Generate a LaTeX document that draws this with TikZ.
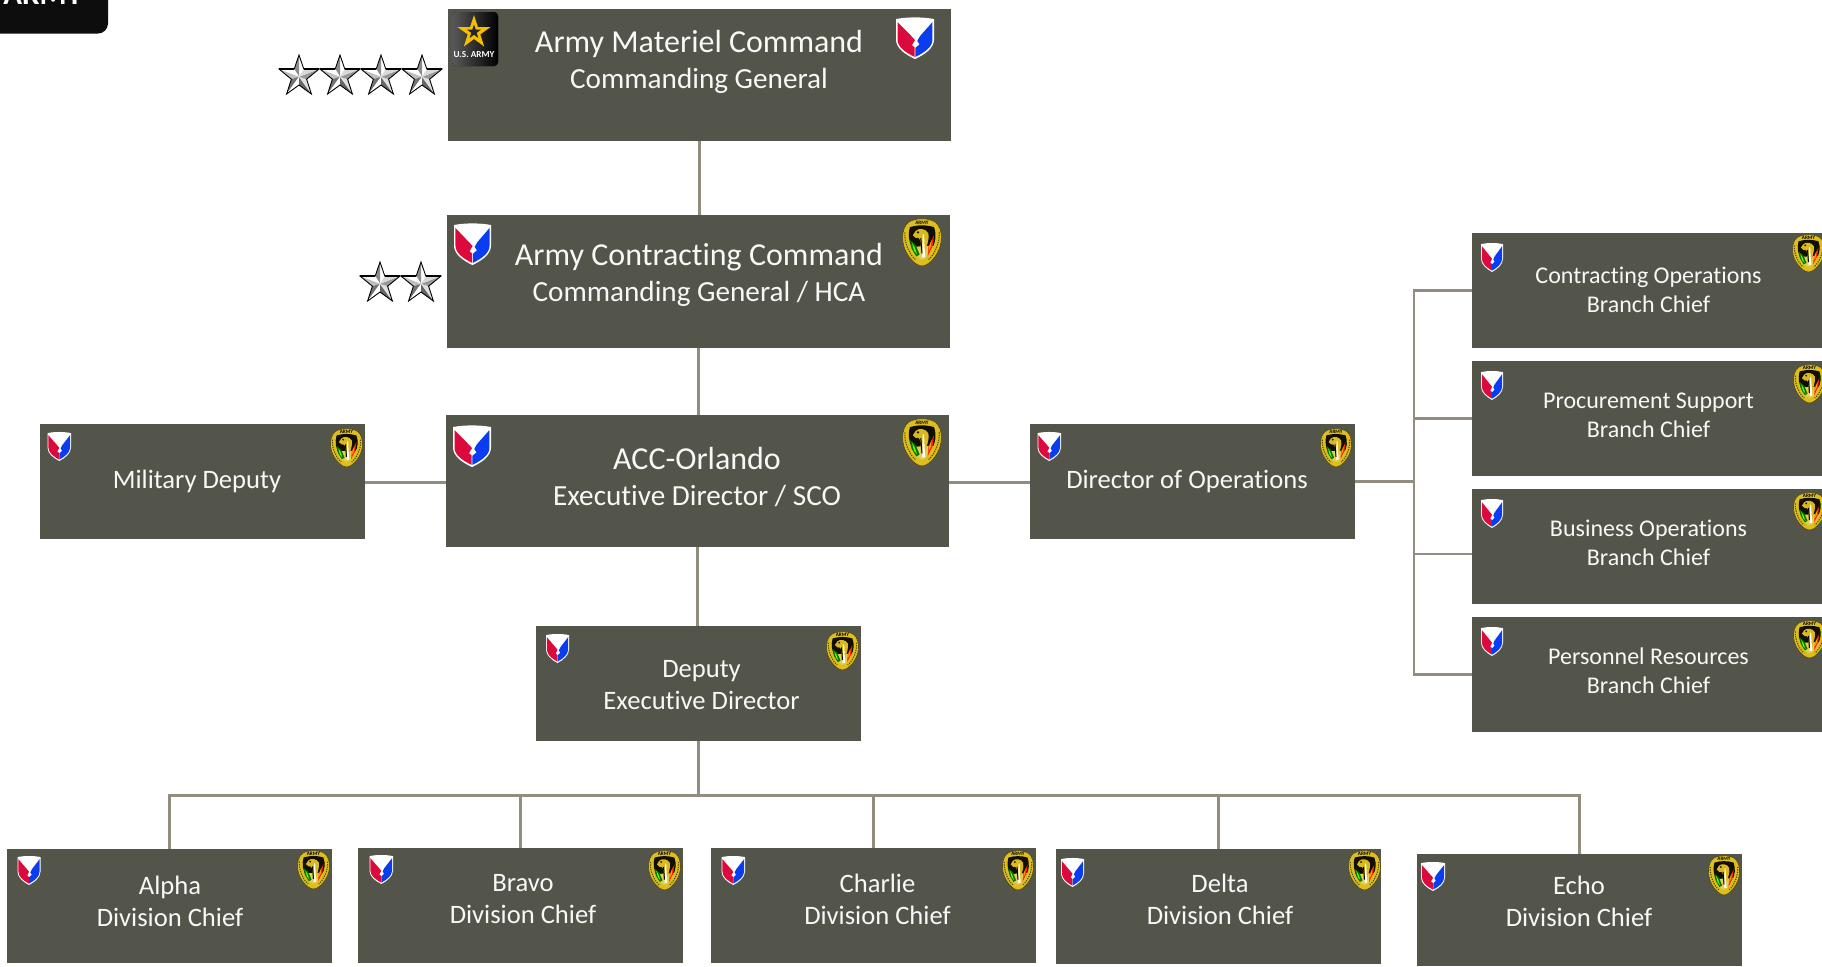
\documentclass[tikz,border=0pt]{standalone}
\usepackage{fontspec}
\setmainfont{Carlito}[Ligatures=NoCommon]
\definecolor{boxc}{HTML}{53544A}
\definecolor{linec}{HTML}{928D7E}
\definecolor{txtc}{HTML}{F8F8F6}
\definecolor{shred}{HTML}{DC0A3C}
\definecolor{shblue}{HTML}{0A3CF0}
\definecolor{gold}{HTML}{DDBE1E}
\definecolor{armygold}{HTML}{F5BE00}
\tikzset{
  orgbox/.style={fill=boxc,draw=none,inner sep=0pt,outer sep=0pt,rectangle},
  conn/.style={draw=linec,line width=1.35pt},
  t/.style={text=txtc,inner sep=0pt,align=center},
  shield/.pic={
    \fill[white] (0,.07) .. controls (.3,.02) and (.7,.02) .. (1,.07) -- (1,.55) .. controls (1,.75) and (.75,.9) .. (.5,1) .. controls (.25,.9) and (0,.75) .. (0,.55) -- cycle;
    \fill[shred] (.04,.14) -- (.44,.5) -- (.5,.56) -- (.42,.68) -- (.49,.73) -- (.49,.95) .. controls (.25,.85) and (.04,.72) .. (.04,.55) -- cycle;
    \fill[shblue] (.96,.14) -- (.63,.47) -- (.56,.58) -- (.62,.66) -- (.51,.74) -- (.51,.95) .. controls (.75,.85) and (.96,.72) .. (.96,.55) -- cycle;
  },
  badge/.pic={
    % outer gold shield-oval
    \fill[gold,draw=black!60!gold,line width=.3pt] (.16,.09) .. controls (.35,-.01) and (.65,-.01) .. (.84,.09) .. controls (1.03,.22) and (1.03,.55) .. (.86,.76) .. controls (.74,.92) and (.6,1) .. (.5,1) .. controls (.4,1) and (.26,.92) .. (.14,.76) .. controls (-.03,.55) and (-.03,.22) .. (.16,.09) -- cycle;
    % lettering suggested on the ring
    \draw[black!65!gold,line width=.55pt,dash pattern=on .6pt off .6pt] (.07,.3) .. controls (.05,.52) and (.2,.78) .. (.34,.87);
    \draw[black!65!gold,line width=.55pt,dash pattern=on .6pt off .6pt] (.93,.3) .. controls (.95,.52) and (.8,.78) .. (.66,.87);
    % dark field
    \fill[black!92!gold] (.2,.19) .. controls (.4,.14) and (.6,.14) .. (.8,.19) .. controls (.87,.35) and (.84,.5) .. (.76,.62) -- (.3,.7) .. controls (.18,.55) and (.14,.35) .. (.2,.19) -- cycle;
    % lower field
    \fill[gold!75!white] (.24,.6) -- (.78,.58) .. controls (.72,.74) and (.6,.85) .. (.5,.87) .. controls (.4,.85) and (.3,.74) .. (.24,.6) -- cycle;
    % eagle
    \fill[gold!90!brown] (.27,.36) -- (.34,.27) .. controls (.42,.2) and (.6,.22) .. (.66,.32) .. controls (.69,.45) and (.62,.55) .. (.58,.72) -- (.46,.72) -- (.47,.52) .. controls (.46,.44) and (.4,.38) .. (.35,.42) -- cycle;
    \fill[black!90!gold] (.4,.3) circle [x radius=.03,y radius=.025];
    % leaves
    \fill[green!45!black] (.2,.46) -- (.34,.56) -- (.44,.76) -- (.36,.8) -- (.24,.64) -- cycle;
    \fill[green!60!yellow] (.25,.52) -- (.31,.6) -- (.38,.76) -- (.3,.68) -- cycle;
    \fill[red!70!orange] (.8,.36) -- (.76,.6) -- (.64,.8) -- (.66,.6) -- cycle;
    \fill[orange!80!yellow] (.74,.46) -- (.72,.6) -- (.66,.7) -- (.68,.58) -- cycle;
    % sword
    \fill[white!90!yellow] (.52,.34) -- (.55,.34) -- (.58,.82) -- (.5,.82) -- cycle;
    \draw[black,line width=.5pt] (.47,.42) -- (.5,.74);
    \node[text=black,inner sep=0pt,font=\fontsize{2.6}{3}\selectfont\bfseries] (-word) at (.5,.09) {ARMY};
  },
  silverstar/.pic={
    \fill[white] (.5,0) -- (.62,.36) -- (.5,.56) -- cycle;
    \fill[black!45] (.5,0) -- (.38,.36) -- (.5,.56) -- cycle;
    \fill[white] (0,.36) -- (.38,.36) -- (.5,.56) -- cycle;
    \fill[black!25] (0,.36) -- (.31,.62) -- (.5,.56) -- cycle;
    \fill[black!55] (.19,1) -- (.31,.62) -- (.5,.56) -- cycle;
    \fill[white] (.19,1) -- (.5,.77) -- (.5,.56) -- cycle;
    \fill[black!60] (.81,1) -- (.5,.77) -- (.5,.56) -- cycle;
    \fill[black!12] (.81,1) -- (.69,.62) -- (.5,.56) -- cycle;
    \fill[black!40] (1,.36) -- (.69,.62) -- (.5,.56) -- cycle;
    \fill[black!15] (1,.36) -- (.62,.36) -- (.5,.56) -- cycle;
    \draw[black,line width=.45pt,line join=miter] (.5,0) -- (.62,.36) -- (1,.36) -- (.69,.62) -- (.81,1) -- (.5,.77) -- (.19,1) -- (.31,.62) -- (0,.36) -- (.38,.36) -- cycle;
    \draw[black,line width=.9pt] (0,.35) -- (.38,.35) (.62,.35) -- (1,.35);
  }
}
\newcommand{\orgnode}[5]{%
  \pgfmathsetmacro{\bw}{(#4-#2)*0.5}\pgfmathsetmacro{\bh}{(#5-#3)*0.5}%
  \node[orgbox,minimum width=\bw pt,minimum height=\bh pt,anchor=north west] (#1) at (#2,#3) {};}
\newcommand{\shieldat}[4]{\pgfmathsetmacro{\pw}{#3-#1}\pgfmathsetmacro{\ph}{#4-#2}\pic[shift={(#1,#2)},xscale=\pw,yscale=\ph]{shield};}
\newcommand{\badgeat}[4]{\pgfmathsetmacro{\pw}{#3-#1}\pgfmathsetmacro{\ph}{#4-#2}\pic[shift={(#1,#2)},xscale=\pw,yscale=\ph]{badge};}
\newcommand{\starat}[4]{\pgfmathsetmacro{\pw}{#3-#1}\pgfmathsetmacro{\ph}{#4-#2}\pic[shift={(#1,#2)},xscale=\pw,yscale=\ph]{silverstar};}
\newcommand{\fbig}{\fontsize{16}{18.6}\selectfont}
\newcommand{\fsub}{\fontsize{14.6}{18.6}\selectfont}
\newcommand{\fdiv}{\fontsize{13.3}{15.9}\selectfont}
\newcommand{\fbr}{\fontsize{12}{14.6}\selectfont}
\begin{document}
\begin{tikzpicture}[x=0.5pt,y=-0.5pt]
\clip (0,0) rectangle (1822,966);
\useasboundingbox (0,0) rectangle (1822,966);
\fill[white] (0,0) rectangle (1822,966);
% corner tab
\path[fill=black!95,rounded corners=5pt] (-20,-20) rectangle (108,33.5);
\node[text=white,inner sep=0pt,anchor=base west,font=\fontsize{15.5}{16}\selectfont\bfseries] (tabtext) at (3,4.5) {ARMY};

% boxes
\orgnode{amc}{448}{8.5}{950.5}{141}
\orgnode{acc}{447}{215}{949.5}{347.5}
\orgnode{orl}{446}{415}{948.5}{546.5}
\orgnode{mil}{40}{424}{365}{538.5}
\orgnode{ops}{1030}{424}{1355}{538.5}
\orgnode{dep}{536}{626}{861}{740.5}
\orgnode{bra}{1472}{233}{1822}{347.5}
\orgnode{brb}{1472}{361}{1822}{475.5}
\orgnode{brc}{1472}{489}{1822}{603.5}
\orgnode{brd}{1472}{617}{1822}{731.5}
\orgnode{alpha}{7}{849}{332}{962.5}
\orgnode{bravo}{358}{848}{683}{962.5}
\orgnode{charlie}{711}{848}{1036}{962.5}
\orgnode{delta}{1056}{849}{1381}{963.5}
\orgnode{echo}{1417}{854}{1742}{966}

% connectors
\coordinate (busright) at (1414,481.5);
\coordinate (busbranchc) at (1414,554);
\coordinate (busdiv) at (698.5,795.5);
\coordinate (brcin) at (1472,554);
\coordinate (sideleft) at (365,482.7);
\coordinate (sideright) at (1030,482.7);
\begin{scope}[conn]
\draw (amc.south) -- (amc.south |- acc.north);
\draw (acc.south) -- (acc.south |- orl.north);
\draw (orl.south) -- (orl.south |- dep.north);
\draw (sideleft) -- (sideleft -| orl.west);
\draw (sideright -| orl.east) -- (sideright);
\draw (ops.east |- busright) -- (busright);
\draw (bra.west) -| (brd.west -| busright) -- (brd.west);
\draw (brb.west) -- (brb.west -| busright);
\draw (brcin) -- (busbranchc);
\draw (dep.south) -- (busdiv);
\draw (alpha.north) |- (busdiv) -| (echo.north);
\draw (bravo.north) -- (bravo.north |- busdiv);
\draw (charlie.north) -- (charlie.north |- busdiv);
\draw (delta.north) -- (delta.north |- busdiv);
\end{scope}

% texts
\node[t] (amct) at (699,62) {\fbig Army Materiel Command\\[3.9pt]\fsub Commanding General};
\node[t] (acct) at (699,275) {\fbig Army Contracting Command\\[3.9pt]\fsub Commanding General / HCA};
\node[t] (orlt) at (697,477) {\fbig ACC-Orlando\\[6.2pt]\fsub Executive Director / SCO};
\node[t,font=\fdiv] (milt) at (197,481.5) {Military Deputy};
\node[t,font=\fdiv] (opst) at (1187,481.5) {Director of Operations};
\node[t,font=\fdiv] (dept) at (701.5,685) {Deputy\\Executive Director};
\node[t,font=\fdiv] (alphat) at (170,901) {Alpha\\Division Chief};
\node[t,font=\fdiv] (bravot) at (523,899) {Bravo\\Division Chief};
\node[t,font=\fdiv] (charliet) at (877.5,899) {Charlie\\Division Chief};
\node[t,font=\fdiv] (deltat) at (1220,899) {Delta\\Division Chief};
\node[t,font=\fdiv] (echot) at (1579,901) {Echo\\Division Chief};
\node[t,font=\fbr] (brat) at (1648.5,289.5) {Contracting Operations\\Branch Chief};
\node[t,font=\fbr] (brbt) at (1648.5,415) {Procurement Support\\Branch Chief};
\node[t,font=\fbr] (brct) at (1648.5,542.5) {Business Operations\\Branch Chief};
\node[t,font=\fbr] (brdt) at (1648.5,670.5) {Personnel Resources\\Branch Chief};

% army logo
\fill[black,rounded corners=2pt,left color=black!65,right color=black] (452,12) rectangle (498,66);
\fill[armygold] (474,15) -- (477.9,27) -- (490.6,27) -- (480.3,34.4) -- (484.2,46.5) -- (474,39) -- (463.8,46.5) -- (467.7,34.4) -- (457.4,27) -- (470.1,27) -- cycle;
\fill[black!85] (474,24.5) -- (475.7,29.6) -- (481,29.6) -- (476.7,32.8) -- (478.3,38) -- (474,34.8) -- (469.7,38) -- (471.3,32.8) -- (467,29.6) -- (472.3,29.6) -- cycle;
\node[text=white,inner sep=0pt,font=\fontsize{4.6}{5}\selectfont\bfseries] (armylogo) at (474,55) {U.S. ARMY};

% rank stars
\starat{279}{55}{319}{94}\starat{320}{55}{360}{94}\starat{361}{55}{401}{94}\starat{402}{55}{442}{94}
\starat{360}{262}{400}{301}\starat{401}{262}{441}{301}

% shields
\shieldat{896}{16}{934}{59}
\shieldat{454}{222}{491}{265}
\shieldat{453}{424}{491}{467}
\shieldat{47.5}{431}{71}{461}
\shieldat{1037.5}{431}{1061}{461}
\shieldat{546}{633}{569}{663}
\shieldat{1481}{242}{1503}{272}
\shieldat{1481}{370}{1503}{400}
\shieldat{1481}{498}{1503}{528}
\shieldat{1481}{626}{1503}{656}
\shieldat{17.5}{855}{40.5}{885}
\shieldat{369.5}{854}{393}{884}
\shieldat{721.5}{855}{745}{885}
\shieldat{1061}{857}{1084}{887}
\shieldat{1421}{861}{1445}{891}

% badges
\badgeat{902}{218}{942}{266}
\badgeat{902}{418}{942}{466}
\badgeat{330}{428}{363}{467}
\badgeat{1320}{428}{1352}{467}
\badgeat{826}{631}{859}{670}
\badgeat{1792}{234}{1825}{272}
\badgeat{1793}{364}{1826}{403}
\badgeat{1793}{492}{1826}{530}
\badgeat{1793}{620}{1826}{658}
\badgeat{297}{850}{330}{889}
\badgeat{648}{850}{681}{890}
\badgeat{1002}{850}{1034}{890}
\badgeat{1348}{850}{1381}{890}
\badgeat{1708}{855}{1740}{895}
\end{tikzpicture}
\end{document}
